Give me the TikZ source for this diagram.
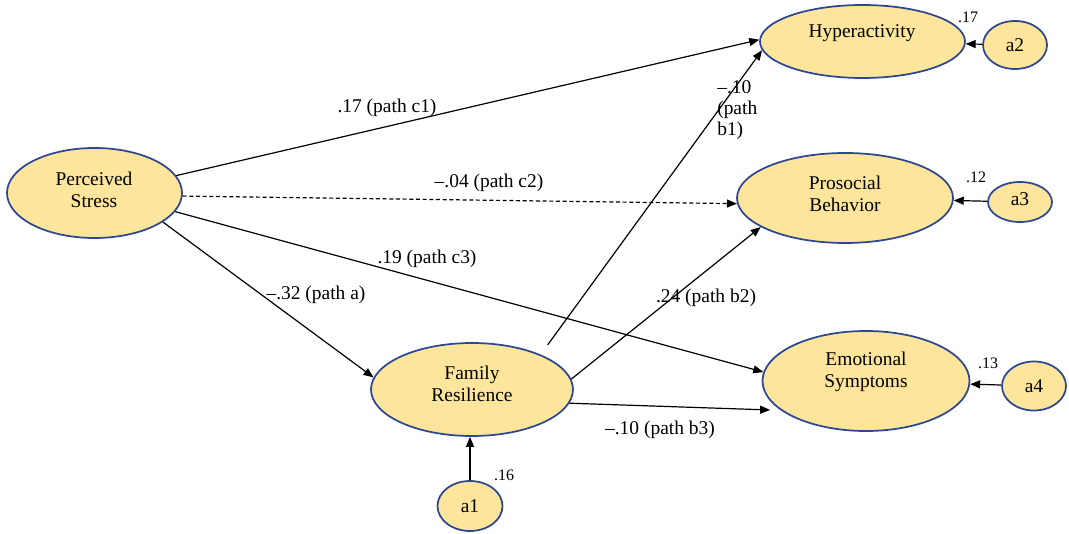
\documentclass[tikz,border=0pt]{standalone}
\usepackage{fontspec}
\setmainfont{Liberation Serif}
\usetikzlibrary{arrows.meta,shapes.geometric}
\definecolor{lfill}{RGB}{253,229,155}
\definecolor{ldraw}{RGB}{45,70,145}
\begin{document}
\begin{tikzpicture}[x=0.75pt,y=-0.75pt,
  lat/.style={ellipse, draw=ldraw, fill=lfill, line width=1.3pt, inner sep=0pt},
  txt/.style={font=\fontsize{14.6}{16.5}\selectfont, align=center, inner sep=0pt},
  elbl/.style={font=\fontsize{14.6}{16}\selectfont, inner sep=0pt},
  slbl/.style={font=\fontsize{12}{13}\selectfont, inner sep=0pt},
  conn/.style={draw, line width=0.9pt, -{Triangle[length=7.5pt,width=6pt]}},
  dconn/.style={conn, dash pattern=on 3pt off 2pt}
]
\useasboundingbox (0,0) rectangle (1069,534);
% latent ellipses
\node[lat, minimum width=131.25pt, minimum height=67.5pt] (ps) at (94.5,193) {};
\node[lat, minimum width=153.75pt, minimum height=54.75pt] (hyp) at (862.5,41.5) {};
\node[lat, minimum width=162pt, minimum height=67.5pt] (pro) at (845,198) {};
\node[lat, minimum width=155.25pt, minimum height=75pt] (emo) at (866,381) {};
\node[lat, minimum width=151.5pt, minimum height=69.75pt] (fr) at (472,389.5) {};
\node[lat, minimum width=48.75pt, minimum height=37.5pt] (a1) at (470,506) {};
\node[lat, minimum width=48pt, minimum height=36pt] (a2) at (1015,45) {};
\node[lat, minimum width=48pt, minimum height=30pt] (a3) at (1020,202) {};
\node[lat, minimum width=48pt, minimum height=36.75pt] (a4) at (1034,386) {};
% texts
\node[txt] (tps) at (94,190) {Perceived\\Stress};
\node[txt] (thyp) at (862,33) {Hyperactivity};
\node[txt] (tpro) at (845,194) {Prosocial\\Behavior};
\node[txt] (temo) at (866,372) {Emotional\\Symptoms};
\node[txt] (tfr) at (472,384) {Family\\Resilience};
\node[txt] (ta1) at (470,506) {a1};
\node[txt] (ta2) at (1015,45) {a2};
\node[txt] (ta3) at (1020,199) {a3};
\node[txt] (ta4) at (1034,386) {a4};
% connectors
\draw[conn] (ps.12.6) -- (hyp.179);
\draw[dconn] (ps.-2.6) -- (pro.183);
\draw[conn] (ps.-13) -- (emo.175);
\draw[conn] (ps.-23) -- (fr.173);
\draw[conn, shorten <=9pt] (fr.27) -- (hyp.185);
\draw[conn] (fr.6) -- (pro.199);
\draw[conn, shorten >=8pt] (fr.-8) -- (emo.199);
\draw[conn] (a1.north) -- (a1.north |- fr.south);
\draw[conn] (a2) -- (hyp);
\draw[conn] (a3) -- (pro);
\draw[conn] (a4) -- (emo);
% edge labels
\node[elbl] (lc1) at (387,108) {.17 (path c1)};
\node[elbl] (lc2) at (489,183) {--.04 (path c2)};
\node[elbl] (lc3) at (427,259) {.19 (path c3)};
\node[elbl] (la) at (316,295) {--.32 (path a)};
\node[elbl] (lb2) at (706,298) {.24 (path b2)};
\node[elbl] (lb3) at (660,430) {--.10 (path b3)};
\node[elbl, align=left, anchor=west] (lb1) at (717,110) {--.10\\(path\\b1)};
% small labels
\node[slbl] (s17) at (968,17) {.17};
\node[slbl] (s12) at (976,177) {.12};
\node[slbl] (s13) at (988,363) {.13};
\node[slbl] (s16) at (504,475) {.16};
\end{tikzpicture}
\end{document}
